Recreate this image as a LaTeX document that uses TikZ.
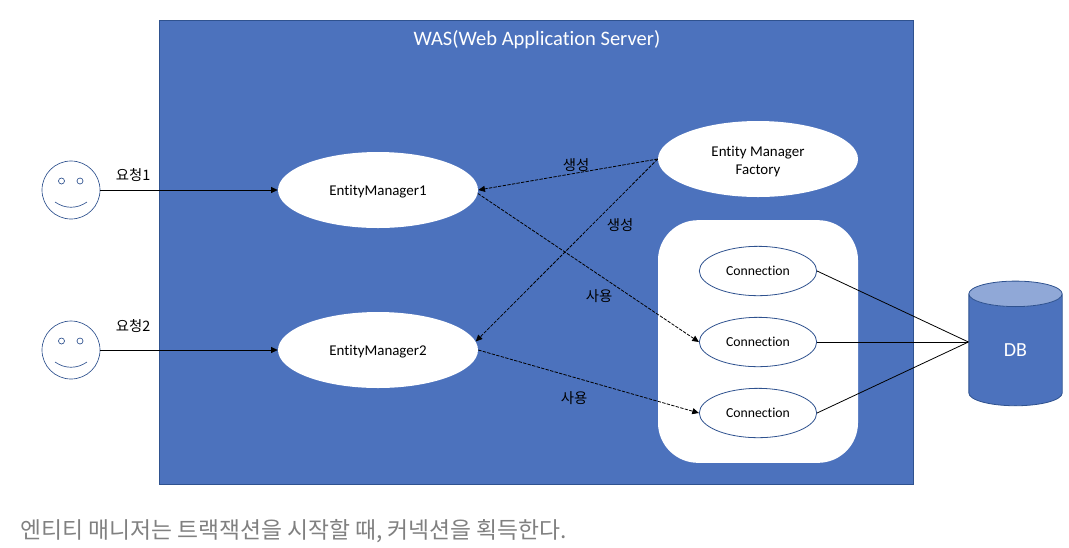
\documentclass[tikz,border=0pt]{standalone}
\usepackage{fontspec}
\setmainfont[Ligatures=NoCommon]{Carlito}
\newfontfamily\krfont{Noto Sans CJK KR}
\usetikzlibrary{arrows.meta,shapes.geometric}
\definecolor{wasblue}{HTML}{4C72BD}
\definecolor{wasline}{HTML}{2F528F}
\definecolor{dbtop}{HTML}{90A8D7}
\tikzset{
  emnode/.style={ellipse,draw=none,fill=white,minimum width=150pt,minimum height=57pt,inner sep=0pt,font=\fontsize{11.2}{13.5}\selectfont},
  connnode/.style={ellipse,draw=wasline,fill=white,line width=0.6pt,minimum width=88pt,minimum height=37pt,inner sep=0pt,text depth=0pt,font=\fontsize{10.3}{12}\selectfont},
  face/.style={circle,draw=wasline,fill=white,line width=0.5pt,minimum size=43.5pt,inner sep=0pt},
  eye/.style={circle,draw=wasline,line width=0.5pt,minimum size=4.5pt,inner sep=0pt},
  arrowline/.style={draw=black,line width=0.6pt,-{Triangle[length=5pt,width=4.5pt]}},
  dashline/.style={arrowline,dash pattern=on 2.5pt off 1pt},
  koreanlabel/.style={font=\krfont\fontsize{10.8}{12}\selectfont,inner sep=0pt},
}
\begin{document}
\begin{tikzpicture}[x=0.75pt,y=-0.75pt]
  \useasboundingbox (0,0) rectangle (1069,547);
  %BOX
  \node[draw=wasline,fill=wasblue,line width=0.6pt,minimum width=566pt,minimum height=348pt,inner sep=0pt] (was) at (536.5,252.5) {};
  \node[text=white,font=\fontsize{15.4}{18}\selectfont,inner sep=0pt] (wastitle) at (537,39.5) {WAS(Web Application Server)};
  \node[draw=none,fill=white,rounded corners=30pt,minimum width=150pt,minimum height=182pt,inner sep=0pt] (pool) at (758,341.5) {};

  %NODE
  \node[face] (user1) at (71,190) {};
  \node[face] (user2) at (71,350) {};
  \node[eye] (eye1a) at (61.5,181) {};
  \node[eye] (eye1b) at (80,181) {};
  \node[eye] (eye2a) at (61.5,341) {};
  \node[eye] (eye2b) at (80,341) {};
  \node[emnode,text depth=0pt] (em1) at (378,190) {EntityManager1};
  \node[emnode,text depth=0pt] (em2) at (378,350) {EntityManager2};
  \node[emnode,align=center] (factory) at (758,159) {\rule{0pt}{11pt}Entity Manager\\Factory};
  \node[connnode] (conn1) at (758,271) {Connection};
  \node[connnode] (conn2) at (758,342) {Connection};
  \node[connnode] (conn3) at (758,413) {Connection};
  \node[cylinder,shape border rotate=90,aspect=1.1,draw=wasline,line width=0.6pt,cylinder uses custom fill,cylinder body fill=wasblue,cylinder end fill=dbtop,minimum width=70pt,minimum height=93.5pt,inner sep=0pt,text=white,font=\fontsize{15}{18}\selectfont] (db) at (1015.5,350) {DB};
  \coordinate (dbin) at (db.west |- conn2.west);

  %SMILE
  \draw[wasline,line width=0.5pt] (55,202) .. controls (65,209) and (77,209) .. (87,202);
  \draw[wasline,line width=0.5pt] (55,362) .. controls (65,369) and (77,369) .. (87,362);

  %LABEL
  \node[koreanlabel] (req1) at (133,175) {요청1};
  \node[koreanlabel] (req2) at (133,326) {요청2};
  \node[koreanlabel] (make1) at (576,165) {생성};
  \node[koreanlabel] (make2) at (620,225) {생성};
  \node[koreanlabel] (use1) at (599,296) {사용};
  \node[koreanlabel] (use2) at (574,398) {사용};
  \node[text=gray,font=\krfont\fontsize{17.1}{20}\selectfont,inner sep=0pt,anchor=west] (caption) at (20,531) {엔티티 매니저는 트랙잭션을 시작할 때, 커넥션을 획득한다.};

  %EDGE
  \draw[arrowline] (user1) -- (em1);
  \draw[arrowline] (user2) -- (em2);
  \draw[dashline] (factory.west) -- (em1.east);
  \draw[dashline] (factory.west) -- (em2.5);
  \draw[dashline] (em1.-2) -- (conn2.west);
  \draw[dashline] (em2.east) -- (conn3.west);
  \draw[line width=0.6pt] (conn1.east) -- (dbin);
  \draw[line width=0.6pt] (conn2.east) -- (dbin);
  \draw[line width=0.6pt] (conn3.east) -- (dbin);
\end{tikzpicture}
\end{document}
